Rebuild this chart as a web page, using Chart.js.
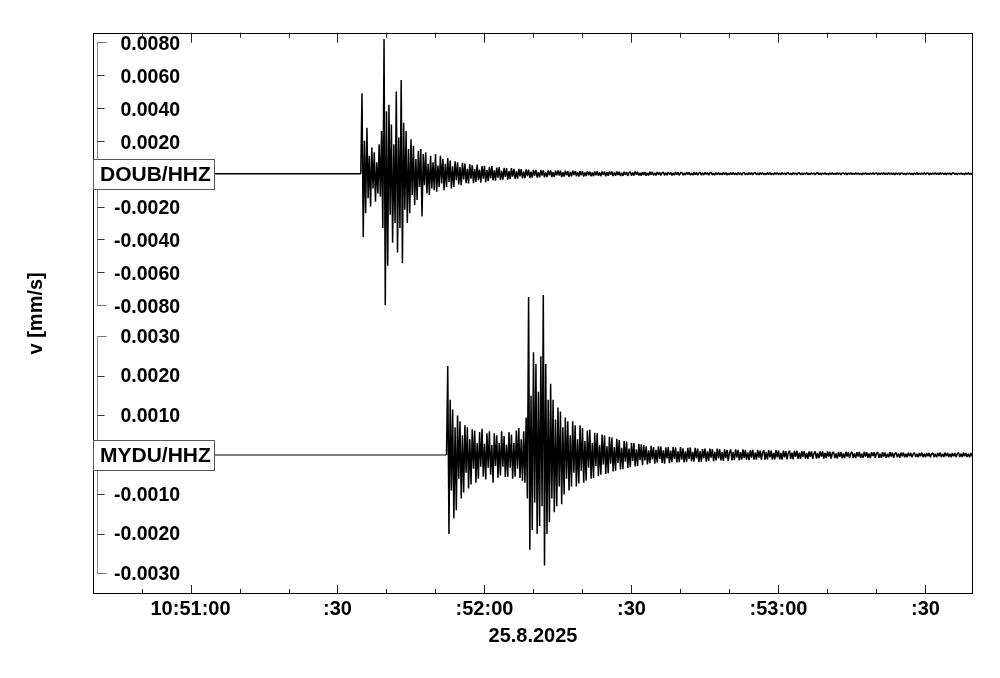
<!DOCTYPE html>
<html><head><meta charset="utf-8">
<script src="https://cdn.jsdelivr.net/npm/chart.js@4.4.1/dist/chart.umd.min.js"></script>
<style>html,body{margin:0;padding:0;background:#fff;}canvas{display:block;}</style>
</head><body>
<canvas id="c" width="1000" height="678"></canvas>
<script>
// ---------------- data ----------------
// time axis: seconds relative to 10:51:00 (25.8.2025)
const X_MIN = -19.9, X_MAX = 159.7;
const X_TICKS = [-10, 0, 10, 20, 30, 40, 50, 60, 70, 80, 90, 100, 110, 120, 130, 140, 150];
const X_TICK_LABELS = ['', '10:51:00', '', '', ':30', '', '', ':52:00', '', '', ':30', '', '', ':53:00', '', '', ':30'];
const DATE_LABEL = '25.8.2025';
const Y_TITLE = 'v [mm/s]';
const STATIONS = ['DOUB/HHZ', 'MYDU/HHZ'];
const DOUB_TICKS = [0.008, 0.006, 0.004, 0.002, -0.002, -0.004, -0.006, -0.008];
const MYDU_TICKS = [0.003, 0.002, 0.001, -0.001, -0.002, -0.003];
const DOUB_RANGE = [-0.008867, 0.008588];   // mm/s
const MYDU_RANGE = [-0.003519, 0.003433];   // mm/s
const VALUE_UNIT = 1e-5;                    // mm/s per stored unit

// DOUB/HHZ: strong part every 0.25 s from 34.75 s, coda every 0.25 s from 75 s
const DOUB_STRONG_START = 34.75, DOUB_STRONG_STEP = 0.25;
const DOUB_STRONG = [
 0, 490, -385, 200, -240, 280, -150, 110, -200, 160, -90, 130, -170, 70, -120, 180, -140, 260, -330, 820, -800,
 380, -560, 420, -250, 300, -420, 180, -300, 500, -480, 220, -330, 570, -545, 310, -220, 260, -300, 150, -240,
 210, -130, 170, -190, 90, -160, 140, -80, 150, -260, 120, -70, 130, -120, 60, -130, 110, -90, 70, -100,
 120, -110, 50, -80, 110, -60, 90, -100, 60, -80, 95, -50, 80, -90, 45, -80, 75, -40, 70, -65,
 40, -70, 66, -35, 62, -58, 30, -60, 58, -30, 52, -58, 28, -50, 56, -40, 25, -55, 47,
 -30, 48, -52, 22, -46, 42, -28, 46, -40, 20, -42, 38, -24, 40, -38, 18, -36, 36, -20, 34,
 -36, 16, -32, 34, -18, 30, -32, 14, -30, 30, -16, 28, -28, 12, -27, 26, -14, 25, -26, 12,
 -24, 24, -12, 23, -24, 10, -22, 23, -11, 21, -22, 10, -21, 20, -9, 20, -20, 9, -19, 18, -10
];
const DOUB_CODA_START = 75, DOUB_CODA_STEP = 0.25;
const DOUB_CODA = [
 20, -12, 18, -20, 9, -17, 19, -10, 15, -19, 11, -16, 18, -8, 17, -15, 10, -18, 16, -9,
 15, -17, 8, -14, 16, -10, 13, -16, 7, -15, 14, -9, 16, -13, 8,
 -15, 14, -7, 13, -15, 9, -12, 14, -6, 13, -14, 8, -12, 13, -7, 12, -14, 6, -13, 12,
 -8, 11, -13, 6, 12, -12, 7, -11, 13, -6, 12, -11, 5, -12, 11, -7, 10, -12, 6, -11, 12,
 -6, 11, -10, 5, -11, 10, -6, 9, -11, 5, 10, -10, 6, -9, 10, -5, 9, -10, 5, -9,
 10, -6, 8, -10, 5, 9, -9, 4, -8, 10, -5, 9, -8, 4, -9, 9, -5, 8, -9, 4, 8,
 -8, 5, -8, 8, -4, 7, -9, 5, 8, -7, 4, -8, 7, -5, 8, -7, 4, -7, 8, -5,
 7, -8, 4, -7, 7, -5, 8, -6, 4, -7, 7, -4, 6, -8, 5, 7, -7, 3, -6, 7,
 -5, 6, -7, 4, 7, -6, 4, -7, 6, -4, 7, -6, 3, -6, 7, -5, 6, -6, 3, -7,
 6, -4, 6, -6, 4, -6, 7, -4, 5, -6, 4, 6, -6, 3, -6, 6, -4, 5, -7, 4, 6, -6,
 4, -6, 5, -3, 6, -6, 3, -5, 6, -4, 5, -6, 3, 6, -5, 4, -6, 5, -3, 6,
 -5, 3, -6, 5, -4, 6, -5, 3, -5, 6, -4, 5, -6, 3, 5, -5, 4, -6, 5, -3,
 6, -5, 3, -5, 6, -4, 5, -5, 3, -6, 5, -4, 6, -5, 3, -5, 5, -4, 6, -5,
 3, 5, -6, 4, -5, 5, -3, 6, -5, 4, -5, 6, -3, 5, -5, 4, -6, 5, -3, 5,
 -6, 4, 5, -5, 3, -6, 5, -4, 5, -5, 3, -6, 5, -4, 6, -5, 3, -5, 5, -4,
 6, -5, 3, 5, -6, 4, -5, 5, -3, 6, -5, 4, -5, 6, -3, 5, -5, 4, -6, 5,
 -3, 5, -6, 4, 5, -5, 3, -6, 5, -4, 5, -5, 3, -6, 5, -4, 6, -5, 3, -5, 5, -4, 6
];

// MYDU/HHZ: strong part every 0.25 s from 52.25 s, coda every 0.25 s from 92.5 s
const MYDU_STRONG_START = 52.25, MYDU_STRONG_STEP = 0.25;
const MYDU_STRONG = [
 0, 225, -200, 140, -90, 115, -160, 70, -140, 100, -60, 85, -110, 50, -95, 75, -45, 70, -85, 40, -75,
 65, -35, 62, -70, 30, -60, 58, -30, 66, -55, 28, -62, 55, -32, 60, -50, 25, -70, 55, -28,
 50, -58, 30, -52, 60, -30, 48, -56, 26, -55, 58, -32, 52, -60, 30, -55, 62, -35, 68, -58,
 40, -65, 60, -70, 95, -110, 400, -240, 150, -190, 260, -120, 230, -200, 160, -180, 250, -130, 405, -280,
 230, -200, 140, -170, 180, -110, 140, -145, 90, -130, 120, -80, 110, -125, 70, -100, 95, -60, 85, -90,
 50, -80, 85, -45, 75, -80, 40, -72, 75, -40, 68, -70, 35, -65, 62, -32, 64, -60, 30, -58,
 56, -28, 55, -54, 26, -50, 52, -24, 50, -48, 22, -46, 46, -22, 44, -42, 20, -40, 41, -20,
 38, -37, 18, -36, 35, -17, 34, -33, 16, -31, 31, -15, 30, -29, 14, -28, 28, -13, 27, -26
];
const MYDU_CODA_START = 92.5, MYDU_CODA_STEP = 0.25;
const MYDU_CODA = [
 25, -14, 22, -24, 12, -21, 23, -11, 20, -22, 13, -19, 22, -10, 21, -20, 12, -22, 19, -9,
 20, -21, 11, -18, 20, -10, 19, -19, 9, -18, 20, -12, 17, -19, 9, -17, 18, -10, 19, -16,
 8, -17, 18, -9, 16, -18, 10,
 -17, 15, -8, 16, -17, 9, -15, 16, -7, 15, -16, 8, -14, 16, -9, 15, -14, 7, -15, 14,
 -8, 13, -15, 7, 14, -14, 8, -13, 14, -6, 13, -14, 7, -12, 14, -8, 13, -12, 6, -13,
 12, -7, 13, -12, 6, -12, 13, -7, 11, -12, 6, 12, -12, 7, -11, 12, -6, 11, -12, 5,
 -11, 12, -6, 11, -11, 5, -12, 11, -6, 10, -11, 5, 11, -10, 6, -11, 10, -5, 11, -10, 6, -10,
 10, -5, 10, -9, 5, -10, 9, -5, 9, -10, 4, 9, -9, 5, -8, 9, -4, 9, -9, 5,
 -8, 9, -4, 8, -9, 5, 8, -8, 4, -9, 8, -5, 8, -8, 4, -8, 8, -4, 7, -8,
 4, 8, -7, 4, -8, 7, -4, 8, -7, 3, -7, 8, -4, 7, -7, 4, -8, 7, -3, 7,
 -7, 4, 7, -7, 3, -7, 7, -4, 6, -7, 3, -6, 7, -4, 6, -7, 3, 6, -6, 4, -7, 6,
 -3, 6, -6, 3, -6, 6, -3, 5, -6, 3, 6, -5, 3, -6, 5, -3, 6, -5, 3, -6,
 5, -3, 5, -6, 3, 5, -5, 3, -6, 5, -3, 6, -5, 3, -5, 6, -3, 5, -5, 3,
 -6, 5, -3, 5, -5, 3, 6, -5, 3, -5, 6, -3, 5, -5, 3, -6, 5, -3, 5, -6, 3, 5
];

// ---------------- build ----------------
function buildPoints(segments) {
  const pts = [{x: X_MIN, y: 0}];
  segments.forEach(seg => seg.values.forEach((v, i) => pts.push({x: seg.start + i * seg.step, y: v * VALUE_UNIT})));
  return pts;
}
const doubPoints = buildPoints([
  {start: DOUB_STRONG_START, step: DOUB_STRONG_STEP, values: DOUB_STRONG},
  {start: DOUB_CODA_START, step: DOUB_CODA_STEP, values: DOUB_CODA}
]);
const myduPoints = buildPoints([
  {start: MYDU_STRONG_START, step: MYDU_STRONG_STEP, values: MYDU_STRONG},
  {start: MYDU_CODA_START, step: MYDU_CODA_STEP, values: MYDU_CODA}
]);

const FAMILY = "'Liberation Sans', Arial, Helvetica, sans-serif";
const TICK_FONT = {family: FAMILY, size: 20, weight: 'bold'};
const YTICK_FONT = {family: FAMILY, size: 19.5, weight: 'bold'};

const decor = {
  id: 'decor',
  afterDatasetsDraw(chart) {
    const ctx = chart.ctx, a = chart.chartArea, xs = chart.scales.x;
    ctx.save();
    ctx.lineWidth = 1;
    ctx.strokeStyle = '#222';
    xs.ticks.forEach(t => {
      const px = Math.round(xs.getPixelForValue(t.value)) + 0.5;
      const major = (X_TICK_LABELS[X_TICKS.indexOf(t.value)] || '') !== '';
      ctx.beginPath();
      ctx.moveTo(px, a.top); ctx.lineTo(px, a.top + (major ? 10 : 5));
      ctx.moveTo(px, a.bottom); ctx.lineTo(px, a.bottom - (major ? 9 : 5));
      ctx.stroke();
    });
    ctx.strokeStyle = '#000';
    ctx.strokeRect(Math.round(a.left) + 0.5, Math.round(a.top) + 0.5, Math.round(a.right - a.left) - 1, Math.round(a.bottom - a.top) - 1);
    [['yTop', DOUB_TICKS, STATIONS[0]], ['yBot', MYDU_TICKS, STATIONS[1]]].forEach(([id, ticks, name]) => {
      const s = chart.scales[id];
      const bx = Math.round(a.left) + 4.5;
      const yA = Math.round(s.getPixelForValue(Math.max(...ticks))) + 0.5;
      const yB = Math.round(s.getPixelForValue(Math.min(...ticks))) + 0.5;
      ctx.strokeStyle = '#8c8c8c';
      ctx.beginPath(); ctx.moveTo(bx, yA); ctx.lineTo(bx, yB); ctx.stroke();
      ticks.forEach((v, k) => {
        const py = Math.round(s.getPixelForValue(v)) + 0.5;
        const end = (k === 0 || k === ticks.length - 1);
        ctx.strokeStyle = end ? '#777' : '#333';
        ctx.beginPath(); ctx.moveTo(bx, py); ctx.lineTo(bx + (end ? 9 : 7), py); ctx.stroke();
      });
      const y0 = Math.round(s.getPixelForValue(0));
      const left = Math.round(a.left) + 0.5;
      ctx.fillStyle = '#fff';
      ctx.fillRect(left, y0 - 15, 121, 30);
      ctx.strokeStyle = '#555';
      ctx.strokeRect(left, y0 - 14.5, 121, 30);
      ctx.fillStyle = '#000';
      ctx.font = 'bold 21px ' + FAMILY;
      ctx.textBaseline = 'middle';
      ctx.textAlign = 'left';
      ctx.fillText(name, left + 6.5, y0 + 1);
    });
    ctx.restore();
  }
};

function yAxis(range, ticks, weight, stackWeight, labelOffset) {
  return {
    type: 'linear', position: 'left', stack: 'traces', stackWeight: stackWeight, weight: weight,
    min: range[0], max: range[1], clip: false,
    afterBuildTicks: s => { s.ticks = ticks.map(v => ({value: v})); },
    afterFit: s => { s.width = 0; },
    grid: {display: false, drawTicks: false},
    border: {display: false},
    ticks: {autoSkip: false, mirror: true, crossAlign: 'far', padding: 21, labelOffset: labelOffset, color: '#000', font: YTICK_FONT,
      callback: v => v.toFixed(4)}
  };
}

new Chart(document.getElementById('c'), {
  type: 'line',
  data: {
    datasets: [
      {label: STATIONS[0], data: doubPoints, yAxisID: 'yTop', xAxisID: 'x', borderColor: '#000', borderWidth: 1.5, borderJoinStyle: 'bevel', pointRadius: 0, fill: false, tension: 0},
      {label: STATIONS[1], data: myduPoints, yAxisID: 'yBot', xAxisID: 'x', borderColor: '#000', borderWidth: 1.5, borderJoinStyle: 'bevel', pointRadius: 0, fill: false, tension: 0,
       segment: {borderColor: c => c.p1.parsed.x <= MYDU_STRONG_START ? '#555' : '#000'}}
    ]
  },
  options: {
    responsive: false, animation: false, devicePixelRatio: 1, events: [],
    layout: {padding: {left: 0, right: 27, top: 30, bottom: 0}},
    plugins: {legend: {display: false}, tooltip: {enabled: false}, title: {display: false}},
    scales: {
      x: {
        type: 'linear', position: 'bottom', min: X_MIN, max: X_MAX,
        afterBuildTicks: s => { s.ticks = X_TICKS.map(v => ({value: v})); },
        afterFit: s => { s.height = 84; },
        grid: {display: false, drawTicks: false}, border: {display: false},
        ticks: {autoSkip: false, maxRotation: 0, minRotation: 0, padding: 3, color: '#000', font: TICK_FONT,
          callback: v => { const k = X_TICKS.indexOf(v); return k >= 0 ? X_TICK_LABELS[k] : ''; }},
        title: {display: true, text: DATE_LABEL, color: '#000', font: TICK_FONT, padding: {top: 0, bottom: 30}}
      },
      yTitle: {
        type: 'linear', position: 'left', weight: 10,
        afterFit: s => { s.width = 93; },
        grid: {display: false, drawTicks: false}, border: {display: false}, ticks: {display: false},
        title: {display: true, text: Y_TITLE, color: '#000', font: TICK_FONT, padding: {top: 24, bottom: 0}}
      },
      yTop: yAxis(DOUB_RANGE, DOUB_TICKS, 2, 288, 2.5),
      yBot: yAxis(MYDU_RANGE, MYDU_TICKS, 1, 276, 1)
    }
  },
  plugins: [decor]
});
</script>
</body></html>
